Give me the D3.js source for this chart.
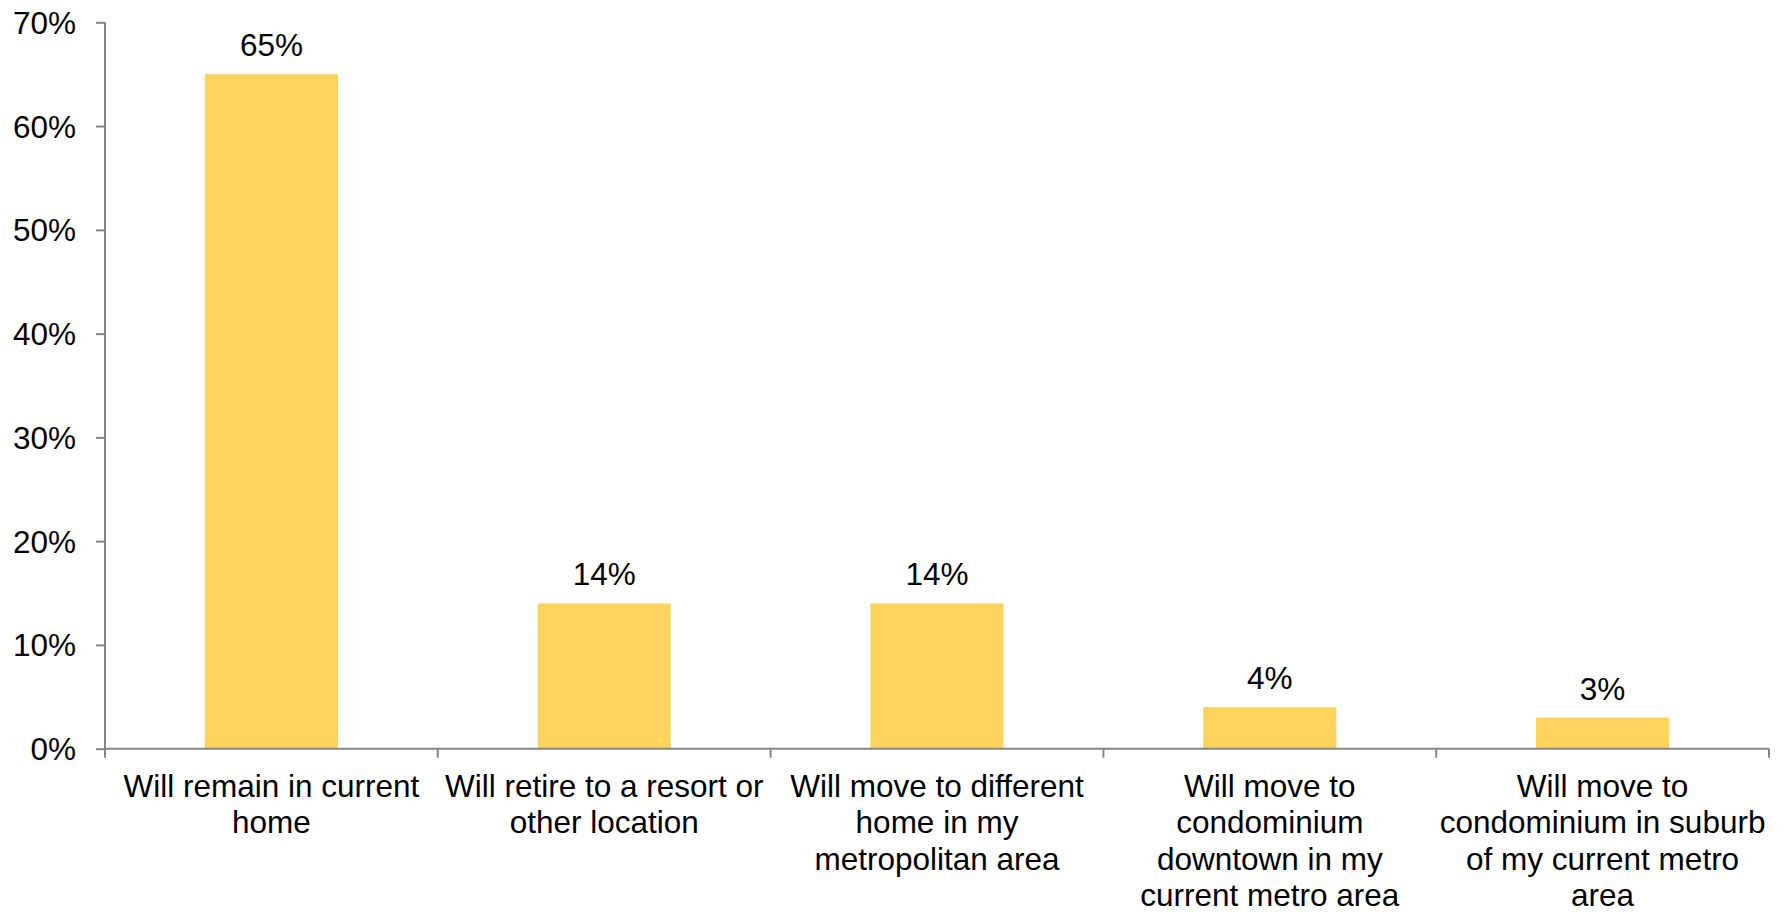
<!DOCTYPE html>
<html>
<head>
<meta charset="utf-8">
<script src="https://cdn.jsdelivr.net/npm/d3@7"></script>
<style>
  html, body { margin: 0; padding: 0; background: #ffffff; }
  svg { display: block; }
  text { font-family: "Liberation Sans", Arial, sans-serif; fill: #000; }
</style>
</head>
<body>
<svg id="chart" width="1787" height="912"></svg>
<script>
// Retirement housing plans (share of respondents)
const categories = [
  ["Will remain in current", "home"],
  ["Will retire to a resort or", "other location"],
  ["Will move to different", "home in my", "metropolitan area"],
  ["Will move to", "condominium", "downtown in my", "current metro area"],
  ["Will move to", "condominium in suburb", "of my current metro", "area"]
];
const values = [65, 14, 14, 4, 3];
const valueLabels = ["65%", "14%", "14%", "4%", "3%"];
const yTicks = [0, 10, 20, 30, 40, 50, 60, 70];

const svg = d3.select("#chart");
const margin = { left: 105, right: 18, top: 22.3, bottom: 163.3 };
const W = 1787, H = 912;
const innerW = W - margin.left - margin.right;
const innerH = H - margin.top - margin.bottom;
const fontSize = 31.5;
const axisColor = "#868686";
const barColor = "#FED35D";

const g = svg.append("g").attr("transform", `translate(${margin.left},${margin.top})`);

const x = d3.scaleBand()
  .domain(d3.range(categories.length))
  .range([0, innerW])
  .paddingInner(0.6)
  .paddingOuter(0.3);

const y = d3.scaleLinear().domain([0, 70]).range([innerH, 0]);

// Bars
g.selectAll("rect.bar")
  .data(values)
  .join("rect")
  .attr("class", "bar")
  .attr("x", (d, i) => x(i))
  .attr("width", x.bandwidth())
  .attr("y", d => y(d))
  .attr("height", d => innerH - y(d))
  .attr("fill", barColor);

// Value labels
g.selectAll("text.val")
  .data(values)
  .join("text")
  .attr("class", "val")
  .attr("x", (d, i) => x(i) + x.bandwidth() / 2)
  .attr("y", d => y(d) - 18)
  .attr("text-anchor", "middle")
  .style("font-size", fontSize + "px")
  .text((d, i) => valueLabels[i]);

// Y axis
const yAxis = d3.axisLeft(y)
  .tickValues(yTicks)
  .tickFormat(d => d + "%")
  .tickSize(9)
  .tickPadding(20);
const ya = g.append("g").call(yAxis);
ya.select(".domain").attr("stroke", axisColor).attr("stroke-width", 2).attr("d", `M0,${innerH}V0`);
ya.selectAll(".tick line").attr("stroke", axisColor).attr("stroke-width", 2);
ya.selectAll(".tick text")
  .style("font-size", fontSize + "px")
  .style("font-family", '"Liberation Sans", Arial, sans-serif')
  .attr("fill", "#000")
  .attr("dy", "0.35em");

// X axis: baseline with category separator ticks
const step = innerW / categories.length;
const xa = g.append("g").attr("transform", `translate(0,${innerH})`);
xa.append("line")
  .attr("x1", 0).attr("x2", innerW)
  .attr("y1", 0).attr("y2", 0)
  .attr("stroke", axisColor).attr("stroke-width", 2);
xa.selectAll("line.sep")
  .data(d3.range(categories.length + 1))
  .join("line")
  .attr("class", "sep")
  .attr("x1", i => i * step).attr("x2", i => i * step)
  .attr("y1", 0).attr("y2", 9)
  .attr("stroke", axisColor).attr("stroke-width", 2);

// Category labels
const lineH = 36.6;
xa.selectAll("text.cat")
  .data(categories)
  .join("text")
  .attr("class", "cat")
  .attr("text-anchor", "middle")
  .style("font-size", fontSize + "px")
  .attr("transform", (d, i) => `translate(${x(i) + x.bandwidth() / 2},48)`)
  .each(function (lines) {
    d3.select(this).selectAll("tspan")
      .data(lines)
      .join("tspan")
      .attr("x", 0)
      .attr("y", (l, j) => j * lineH)
      .text(l => l);
  });
</script>
</body>
</html>
